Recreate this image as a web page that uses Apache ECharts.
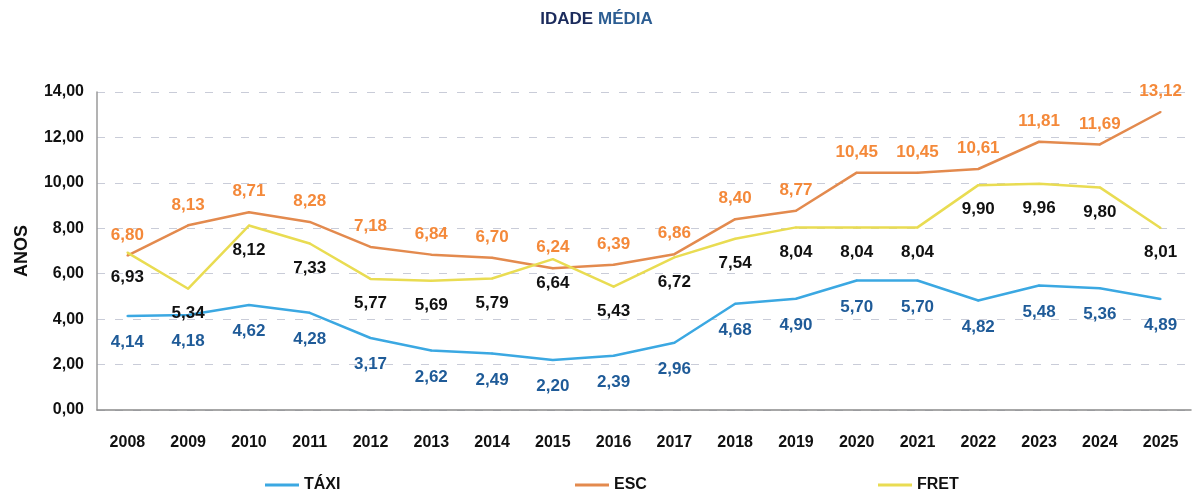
<!DOCTYPE html>
<html>
<head>
<meta charset="utf-8">
<title>Idade média</title>
<script src="https://cdn.jsdelivr.net/npm/echarts@6/dist/echarts.min.js"></script>
<style>
  html, body { margin: 0; padding: 0; background: #fff; }
  #chart { width: 1193px; height: 498px; }
</style>
</head>
<body>
<div id="chart"></div>
<script>
// 年份 / 类别
const years = ['2008', '2009', '2010', '2011', '2012', '2013', '2014', '2015', '2016',
  '2017', '2018', '2019', '2020', '2021', '2022', '2023', '2024', '2025']
// 各系列数据
const taxiValues = [4.14, 4.18, 4.62, 4.28, 3.17, 2.62, 2.49, 2.20, 2.39,
  2.96, 4.68, 4.90, 5.70, 5.70, 4.82, 5.48, 5.36, 4.89]
const escValues = [6.80, 8.13, 8.71, 8.28, 7.18, 6.84, 6.70, 6.24, 6.39,
  6.86, 8.40, 8.77, 10.45, 10.45, 10.61, 11.81, 11.69, 13.12]
const fretValues = [6.93, 5.34, 8.12, 7.33, 5.77, 5.69, 5.79, 6.64, 5.43,
  6.72, 7.54, 8.04, 8.04, 8.04, 9.90, 9.96, 9.80, 8.01]
// 纵轴刻度
const yTicks = [0, 2, 4, 6, 8, 10, 12, 14]

const font = '"Liberation Sans", Arial, sans-serif'
const fmt = (v) => Number(v).toFixed(2).replace('.', ',')

const chartInstance = echarts.init(document.getElementById('chart'))

// 生成一条折线（标签依附在符号上，符号很小，藏在线下面）
function makeSeries (name, data, lineColor, labelColor, position, offsetY) {
  return {
    name: name,
    type: 'line',
    data: data,
    showSymbol: true,
    showAllSymbol: true,
    symbol: 'circle',
    symbolSize: 2,
    lineStyle: { color: lineColor, width: 2.5 },
    itemStyle: { color: lineColor },
    label: {
      show: true,
      position: position,
      distance: offsetY,
      color: labelColor,
      fontFamily: font,
      fontWeight: 'bold',
      fontSize: 17,
      formatter: (p) => fmt(p.value)
    },
    z: 3
  }
}

const option = {
  animation: false,
  textStyle: { fontFamily: font },
  title: {
    text: '{a|IDADE} {b|MÉDIA}',
    left: 'center',
    top: 5,
    textStyle: {
      rich: {
        a: { color: '#1B2B5C', fontSize: 17, fontWeight: 'bold', fontFamily: font },
        b: { color: '#2C5D92', fontSize: 17, fontWeight: 'bold', fontFamily: font }
      }
    }
  },
  grid: {
    left: 97,
    right: 2,
    top: 92,
    bottom: 88,
    containLabel: false
  },
  legend: [
    { data: ['TÁXI'], left: 260, bottom: 0 },
    { data: ['ESC'], left: 570, bottom: 0 },
    { data: ['FRET'], left: 873, bottom: 0 }
  ].map((l) => Object.assign(l, {
    icon: 'rect',
    itemWidth: 34,
    itemHeight: 3,
    itemGap: 4,
    textStyle: { color: '#111', fontWeight: 'bold', fontSize: 16, fontFamily: font }
  })),
  xAxis: {
    type: 'category',
    data: years,
    boundaryGap: true,
    axisLine: { lineStyle: { color: '#8a8a8a', width: 1.5 } },
    axisTick: { show: false },
    axisLabel: {
      color: '#111',
      fontWeight: 'bold',
      fontSize: 16,
      margin: 25,
      fontFamily: font
    }
  },
  yAxis: {
    type: 'value',
    min: yTicks[0],
    max: yTicks[yTicks.length - 1],
    interval: 2,
    name: 'ANOS',
    nameLocation: 'middle',
    nameRotate: 90,
    nameGap: 66,
    nameTextStyle: { color: '#111', fontWeight: 'bold', fontSize: 18, fontFamily: font },
    axisLine: { show: true, lineStyle: { color: '#9a9a9a', width: 1.5 } },
    axisTick: { show: false },
    axisLabel: {
      color: '#111',
      fontWeight: 'bold',
      fontSize: 16,
      margin: 13,
      fontFamily: font,
      formatter: (v) => fmt(v)
    },
    splitLine: {
      show: true,
      lineStyle: { color: '#c9ccd8', type: [8, 10], width: 1.2 }
    }
  },
  series: [
    makeSeries('TÁXI', taxiValues, '#3BA8E2', '#1F5B98', 'bottom', 17),
    makeSeries('ESC', escValues, '#E38A4E', '#F4893A', 'top', 11),
    makeSeries('FRET', fretValues, '#E9DC52', '#111111', 'bottom', 15)
  ]
}

chartInstance.setOption(option)
</script>
</body>
</html>
